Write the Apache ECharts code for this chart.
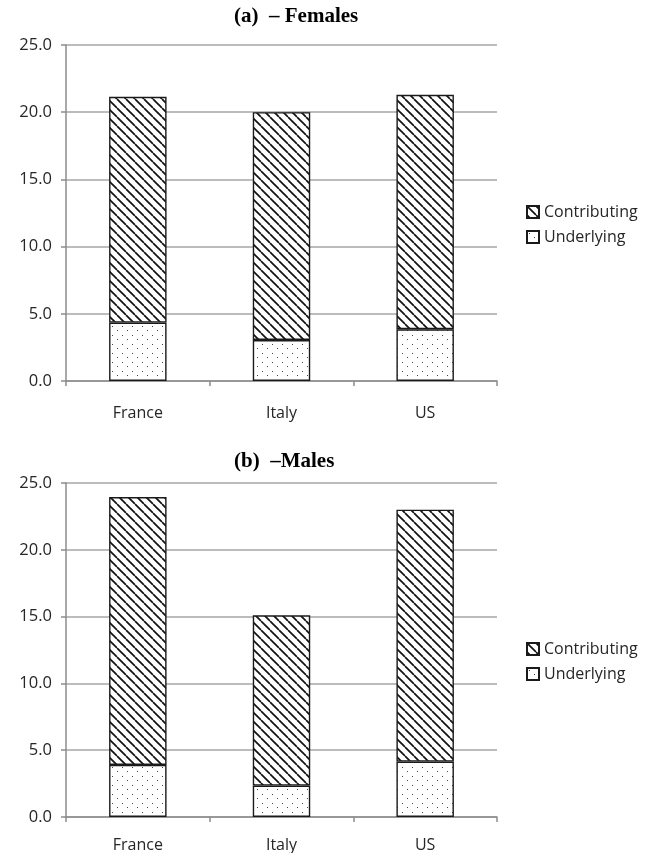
<!DOCTYPE html>
<html>
<head>
<meta charset="utf-8">
<script src="https://cdn.jsdelivr.net/npm/echarts@6/dist/echarts.min.js"></script>
<style>
  html, body { margin: 0; padding: 0; background: #fff; }
  #chart { width: 648px; height: 853px; }
</style>
</head>
<body>
<div id="chart"></div>
<script>
// Countries on the category axis
const countries = ['France', 'Italy', 'US'];

// Panel (a) – females: stacked components
const femalesUnderlying = [4.35, 3.05, 3.85];
const femalesContributing = [16.8, 16.95, 17.45];

// Panel (b) – males: stacked components
const malesUnderlying = [3.9, 2.35, 4.15];
const malesContributing = [20.05, 12.75, 18.85];

const seriesNames = ['Contributing', 'Underlying'];
const panelTitles = ['(a)  \u2013 Females', '(b)  \u2013Males'];

// Diagonal hatching ("\" direction) for the contributing part
function hatchPattern() {
  const s = 9;
  const c = document.createElement('canvas');
  c.width = s; c.height = s;
  const g = c.getContext('2d');
  g.fillStyle = '#fff';
  g.fillRect(0, 0, s, s);
  g.strokeStyle = '#111';
  g.lineWidth = 1.7;
  for (const k of [-s, 0, s]) {
    g.beginPath();
    g.moveTo(k, 0);
    g.lineTo(k + s, s);
    g.stroke();
  }
  return { image: c, repeat: 'repeat' };
}

// Sparse staggered dots for the underlying part
function dotPattern() {
  const w = 10, h = 9;
  const c = document.createElement('canvas');
  c.width = w; c.height = h;
  const g = c.getContext('2d');
  g.fillStyle = '#fff';
  g.fillRect(0, 0, w, h);
  g.fillStyle = '#444';
  g.fillRect(2, 2, 1, 1);
  g.fillRect(7, 6, 1, 1);
  return { image: c, repeat: 'repeat' };
}

const hatch = hatchPattern();
const dots = dotPattern();

const labelFont = 'Open Sans';
const textColor = '#262626';
const axisGray = '#8c8c8c';

const grids = [
  { left: 66, right: 151, top: 45, height: 336, outerBoundsMode: 'none', containLabel: false },
  { left: 66, right: 151, top: 483, height: 334, outerBoundsMode: 'none', containLabel: false }
];

function xAxis(i, margin) {
  return {
    type: 'category', gridIndex: i, data: countries,
    axisLine: { lineStyle: { color: axisGray, width: 1.5 } },
    axisTick: { show: true, length: 5, alignWithLabel: false, lineStyle: { color: axisGray, width: 1.5 } },
    axisLabel: { color: textColor, fontFamily: labelFont, fontSize: 16, margin: margin }
  };
}

function yAxis(i) {
  return {
    type: 'value', gridIndex: i, min: 0, max: 25, interval: 5,
    axisLine: { show: true, lineStyle: { color: axisGray, width: 1.5 } },
    axisTick: { show: true, length: 5, lineStyle: { color: axisGray, width: 1.5 } },
    splitLine: { lineStyle: { color: '#a6a6a6', width: 1.5 } },
    axisLabel: {
      color: textColor, fontFamily: labelFont, fontSize: 16.5, margin: 14,
      formatter: v => v.toFixed(1)
    }
  };
}

function barSeries(name, data, i, pattern) {
  return {
    name: name, type: 'bar', stack: 'panel' + i,
    xAxisIndex: i, yAxisIndex: i, data: data,
    barWidth: '40%',
    itemStyle: { color: pattern, borderColor: '#1a1a1a', borderWidth: 1.4 },
    emphasis: { disabled: true },
    animation: false
  };
}

function legend(top) {
  return {
    data: seriesNames.map(n => ({ name: n, icon: 'rect' })),
    orient: 'vertical',
    left: 526, top: top, padding: 0,
    itemWidth: 12, itemHeight: 12, itemGap: 9,
    textStyle: { color: textColor, fontFamily: labelFont, fontSize: 16, lineHeight: 16 },
    selectedMode: false
  };
}

function title(text, top) {
  return {
    text: text, left: 234, top: top, padding: 0,
    textStyle: { fontFamily: 'Liberation Serif', fontWeight: 'bold', fontSize: 21, color: '#000' }
  };
}

const chart = echarts.init(document.getElementById('chart'), null, { renderer: 'canvas' });
chart.setOption({
  backgroundColor: '#fff',
  animation: false,
  title: [title(panelTitles[0], 6), title(panelTitles[1], 451)],
  legend: [legend(204), legend(641)],
  grid: grids,
  xAxis: [xAxis(0, 24), xAxis(1, 20)],
  yAxis: [yAxis(0), yAxis(1)],
  series: [
    barSeries('Underlying', femalesUnderlying, 0, dots),
    barSeries('Contributing', femalesContributing, 0, hatch),
    barSeries('Underlying', malesUnderlying, 1, dots),
    barSeries('Contributing', malesContributing, 1, hatch)
  ]
});
</script>
</body>
</html>
